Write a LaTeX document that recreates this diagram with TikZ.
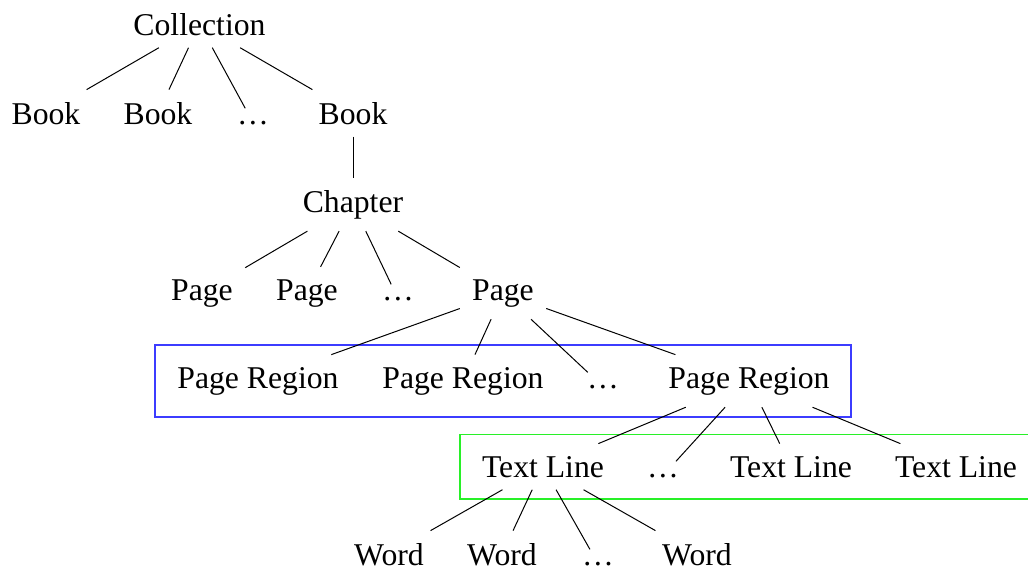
\documentclass[tikz,border=0pt]{standalone}
\usepackage{fontspec}
\setmainfont{Liberation Serif}
\begin{document}
\begin{tikzpicture}[x=0.5pt,y=-0.5pt,
  every node/.style={anchor=base,inner sep=6pt,font=\fontsize{15.85}{19}\selectfont},
  link/.style={line width=0.5pt},
  regionbox/.style={draw={rgb,255:red,60;green,60;blue,255},line width=0.9pt},
  linebox/.style={draw={rgb,255:red,40;green,240;blue,40},line width=0.6pt}]
\useasboundingbox (0,0) rectangle (1028,568);

% group frames
\draw[regionbox] (155,345) rectangle (851,417);
\draw[linebox] (460,434.3) rectangle (1040,499);

% level 0
\node (coll) at (199.5,35) {Collection};
% level 1
\node (b1) at (46,124) {Book};
\node (b2) at (158,124) {Book};
\node (bd) at (253,124) {\dots};
\node (b3) at (353,124) {Book};
% level 2
\node (ch) at (353,212) {Chapter};
% level 3
\node (p1) at (202,300) {Page};
\node (p2) at (307,300) {Page};
\node (pd) at (398,300) {\dots};
\node (p3) at (503,300) {Page};
% level 4
\node (r1) at (258,388) {Page Region};
\node (r2) at (463,388) {Page Region};
\node (rd) at (603,388) {\dots};
\node (r3) at (749,388) {Page Region};
% level 5
\node (t1) at (543,477) {Text Line};
\node (td) at (663,477) {\dots};
\node (t2) at (791,477) {Text Line};
\node (t3) at (956,477) {Text Line};
% level 6
\node (w1) at (389,565) {Word};
\node (w2) at (502,565) {Word};
\node (wd) at (598,565) {\dots};
\node (w3) at (697,565) {Word};

% edges
\foreach \c in {b1,b2,bd,b3} \draw[link] (coll) -- (\c);
\draw[link] (b3) -- (ch);
\foreach \c in {p1,p2,pd,p3} \draw[link] (ch) -- (\c);
\foreach \c in {r1,r2,rd,r3} \draw[link] (p3) -- (\c);
\foreach \c in {t1,td,t2,t3} \draw[link] (r3) -- (\c);
\foreach \c in {w1,w2,wd,w3} \draw[link] (t1) -- (\c);
\end{tikzpicture}
\end{document}
